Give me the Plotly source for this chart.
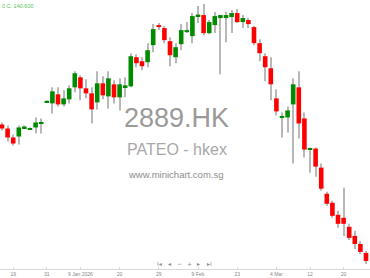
import plotly.graph_objects as go

dates = [
    "2025-12-17", "2025-12-18", "2025-12-19", "2025-12-22", "2025-12-23", "2025-12-24",
    "2025-12-29", "2025-12-30", "2025-12-31",
    "2026-01-02", "2026-01-05", "2026-01-06", "2026-01-07", "2026-01-08", "2026-01-09",
    "2026-01-12", "2026-01-13", "2026-01-14", "2026-01-15", "2026-01-16",
    "2026-01-19", "2026-01-20", "2026-01-21", "2026-01-22", "2026-01-23",
    "2026-01-26", "2026-01-27", "2026-01-28", "2026-01-29", "2026-01-30",
    "2026-02-02", "2026-02-03", "2026-02-04", "2026-02-05", "2026-02-06",
    "2026-02-09", "2026-02-10", "2026-02-11", "2026-02-12", "2026-02-13",
    "2026-02-16", "2026-02-20", "2026-02-23", "2026-02-24", "2026-02-25",
    "2026-02-26", "2026-02-27",
    "2026-03-02", "2026-03-03", "2026-03-04", "2026-03-05", "2026-03-06",
    "2026-03-09", "2026-03-10", "2026-03-11", "2026-03-12", "2026-03-13",
    "2026-03-16", "2026-03-17", "2026-03-18", "2026-03-19", "2026-03-20",
    "2026-03-23", "2026-03-24", "2026-03-25", "2026-03-26",
]

opens = [
    195.0, 193.4, 189.8, 190.2, 193.8, 193.0, 193.8, 195.4, 203.8,
    203.4, 207.0, 203.0, 205.0, 209.8, 213.8,
    209.4, 207.4, 203.8, 211.4, 206.2,
    211.0, 205.8, 210.0, 210.2, 221.8,
    220.2, 219.8, 226.6, 234.6, 233.4,
    228.2, 221.8, 227.0, 231.8, 230.2,
    238.2, 238.6, 231.4, 234.6, 237.4,
    237.4, 237.8, 239.4, 235.8, 236.6,
    233.8, 227.4,
    222.2, 217.4, 205.4, 197.6, 197.8,
    203.0, 209.8, 197.4, 185.0, 185.4,
    177.8, 167.4, 163.8, 159.0, 157.8,
    154.2, 150.6, 147.4, 143.8,
]

highs = [
    195.8, 194.6, 191.0, 194.6, 194.6, 193.8, 197.8, 197.4, 204.6,
    209.8, 209.8, 208.6, 210.6, 216.2, 214.6,
    213.0, 209.8, 216.2, 214.2, 216.2,
    212.6, 213.4, 213.8, 223.4, 223.0,
    221.8, 227.4, 235.0, 235.4, 234.2,
    229.8, 227.4, 235.0, 235.8, 239.4,
    242.2, 243.0, 236.6, 239.8, 238.6,
    239.8, 240.6, 241.0, 238.6, 237.4,
    234.2, 229.0,
    223.4, 221.8, 209.0, 199.8, 202.2,
    213.4, 216.2, 199.8, 185.8, 185.8,
    179.4, 168.2, 164.6, 160.6, 169.8,
    155.4, 152.6, 148.6, 144.6,
]

lows = [
    192.6, 188.2, 186.6, 187.0, 193.4, 192.8, 191.4, 191.4, 203.6,
    199.4, 202.2, 202.2, 203.4, 207.8, 204.6,
    205.4, 195.4, 201.0, 205.0, 201.4,
    203.4, 200.6, 205.8, 209.8, 217.8,
    216.6, 217.8, 223.8, 232.6, 227.4,
    218.2, 219.4, 224.6, 231.4, 227.4,
    235.4, 230.6, 231.0, 231.4, 215.0,
    227.8, 231.4, 235.4, 233.4, 233.4,
    226.6, 220.2,
    212.2, 204.6, 198.6, 189.8, 191.8,
    179.4, 189.4, 181.8, 175.8, 174.2,
    168.6, 162.6, 157.8, 153.8, 150.6,
    149.0, 145.4, 143.4, 139.4,
]

closes = [
    193.4, 189.8, 187.4, 193.8, 194.2, 193.6, 195.8, 196.0, 204.4,
    208.2, 203.0, 205.4, 209.4, 215.4, 209.4,
    207.4, 201.0, 211.4, 206.6, 213.4,
    205.8, 211.0, 210.6, 222.2, 219.4,
    218.2, 224.6, 233.0, 233.8, 228.6,
    222.6, 225.8, 232.6, 232.6, 238.2,
    238.8, 231.4, 235.8, 238.2, 238.6,
    238.6, 239.4, 235.8, 237.4, 235.0,
    227.4, 223.4,
    217.8, 211.0, 200.2, 198.4, 200.6,
    211.0, 195.4, 185.0, 185.6, 178.2,
    169.4, 163.4, 158.6, 155.4, 155.4,
    149.8, 147.4, 144.2, 140.6,
]

tick_dates = ["2025-12-19", "2025-12-31", "2026-01-09", "2026-01-20", "2026-01-29",
              "2026-02-09", "2026-02-23", "2026-03-04", "2026-03-12", "2026-03-20"]
tick_labels = ["19", "31", "9 Jan 2026", "20", "29", "9 Feb", "23", "4 Mar", "12", "20"]

symbol = "2889.HK"
company = "PATEO - hkex"
site = "www.minichart.com.sg"
legend_text = "0 C: 140.600"

UP = "#008a00"
DOWN = "#ff0000"
WICK = "#b8b8b8"
MIN_BODY = 0.7

up_x, up_base, up_h = [], [], []
dn_x, dn_base, dn_h = [], [], []
for d, o, c in zip(dates, opens, closes):
    if c >= o:
        up_x.append(d)
        h = max(c - o, MIN_BODY)
        up_base.append(c - h)
        up_h.append(h)
    else:
        dn_x.append(d)
        h = max(o - c, MIN_BODY)
        dn_base.append(c)
        dn_h.append(h)

fig = go.Figure()
fig.add_trace(go.Bar(x=dates, y=[h - l for h, l in zip(highs, lows)], base=lows,
                     width=0.18, marker=dict(color=WICK, line=dict(width=0)),
                     hoverinfo="skip"))
fig.add_trace(go.Bar(x=up_x, y=up_h, base=up_base, width=0.82,
                     marker=dict(color=UP, line=dict(width=0))))
fig.add_trace(go.Bar(x=dn_x, y=dn_h, base=dn_base, width=0.82,
                     marker=dict(color=DOWN, line=dict(width=0))))

n = len(dates)
left_px, right_px, W = 2.0, 366.0, 370.0
span = (n - 1) * W / (right_px - left_px)
x0 = -left_px * span / W
fig.update_layout(
    width=370, height=278,
    margin=dict(l=0, r=0, t=0, b=9),
    paper_bgcolor="white", plot_bgcolor="white",
    showlegend=False, barmode="overlay",
    xaxis=dict(type="category", categoryorder="array", categoryarray=dates,
               range=[x0, x0 + span], tickmode="array", tickvals=tick_dates,
               ticktext=tick_labels, showgrid=False, zeroline=False,
               showline=True, linecolor="#d8d8d8", linewidth=1,
               ticks="inside", ticklen=2, tickcolor="#d8d8d8",
               tickfont=dict(family="Liberation Sans", size=5, color="#888")),
    yaxis=dict(range=[137.4, 244.6], visible=False, showgrid=False, zeroline=False),
    font=dict(family="Liberation Sans"),
)

annotations = [
    dict(text=symbol, x=176.5 / 370, y=1 - 117.5 / 269, font=dict(size=27, color="#9a9a9a")),
    dict(text=company, x=176.5 / 370, y=1 - 149 / 269, font=dict(size=16, color="#a8a8a8")),
    dict(text=site, x=176.0 / 370, y=1 - 174 / 269, font=dict(size=9.5, color="#8c8c8c")),
]
for a in annotations:
    a.update(xref="paper", yref="paper", showarrow=False, xanchor="center", yanchor="middle")
    fig.add_annotation(**a)

fig.add_annotation(text=legend_text, xref="paper", yref="paper", x=0, y=1 - 5.5 / 269,
                   xanchor="left", yanchor="middle", showarrow=False,
                   font=dict(size=5.5, color="#5cbf5c"))

nav_icons = ["I◂", "◂", "−", "+", "▸", "▸I"]
nav_x = [159, 169, 179, 189, 199, 209]
for t, px in zip(nav_icons, nav_x):
    fig.add_annotation(text=t, xref="paper", yref="paper", x=px / 370, y=1 - 263 / 269,
                       xanchor="center", yanchor="middle", showarrow=False,
                       font=dict(family="DejaVu Sans", size=6, color="#8a8a8a"))

fig.write_html("out.html")
